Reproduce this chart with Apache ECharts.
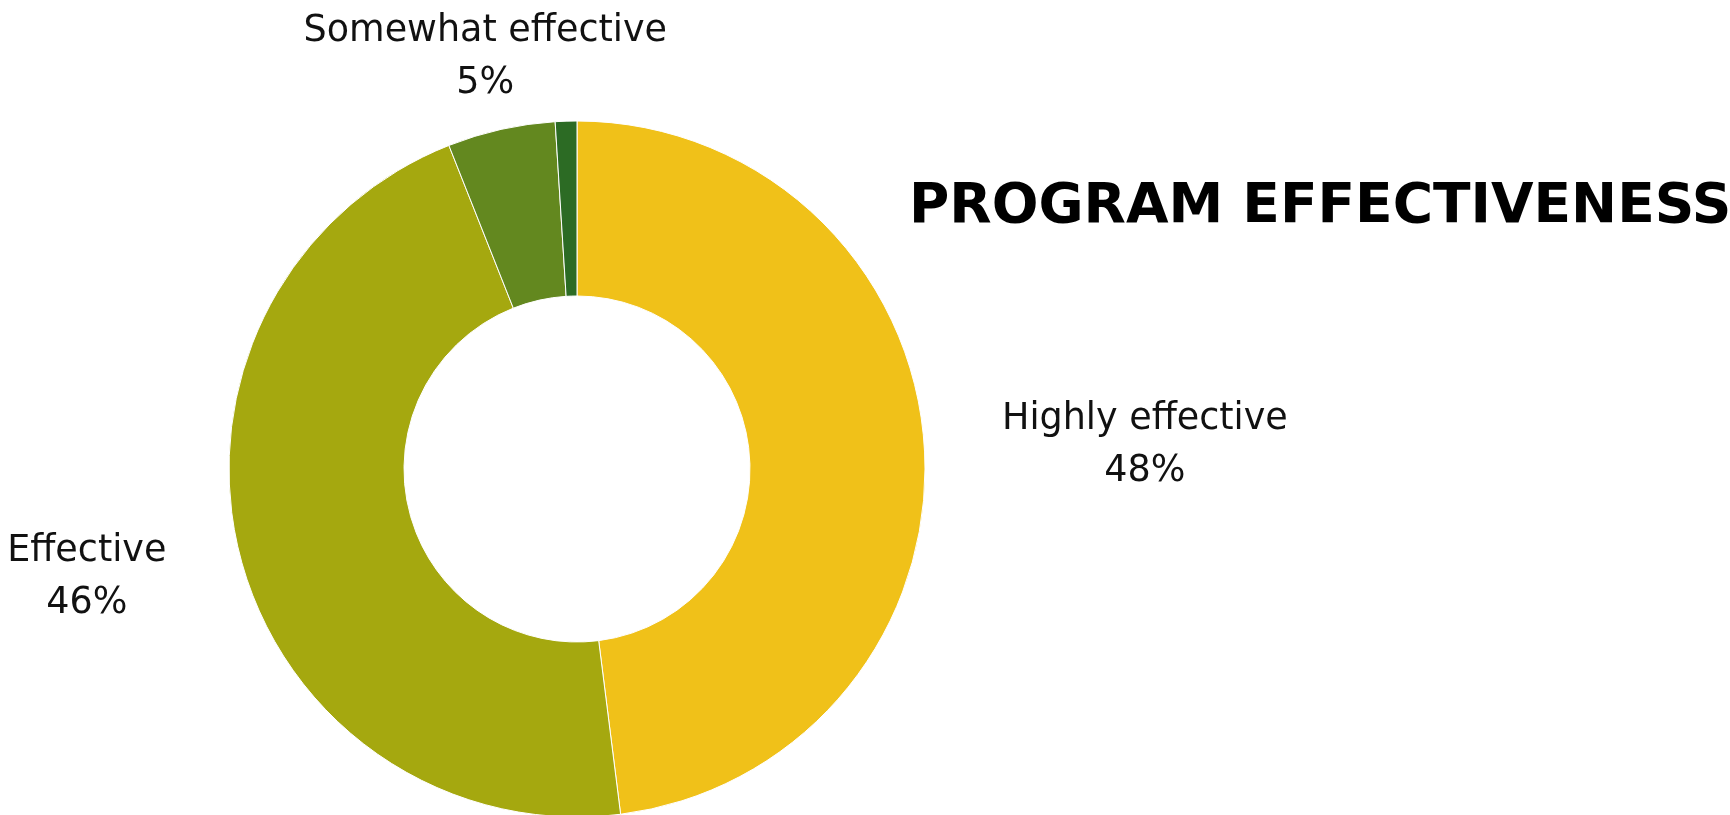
<!DOCTYPE html>
<html>
<head>
<meta charset="utf-8">
<script src="https://cdn.jsdelivr.net/npm/echarts@6/dist/echarts.min.js"></script>
<style>
html,body{margin:0;padding:0;background:#fff;}
#chart{width:1730px;height:815px;}
</style>
</head>
<body>
<div id="chart"></div>
<script>
const categories = ['Highly effective', 'Effective', 'Somewhat effective', 'Not effective'];
const values = [48, 46, 5, 1];
const colors = ['#F0C119', '#A5A80F', '#63881F', '#2C6B24'];
const showLabel = [true, true, true, false];

const CX = 577, CY = 469;
const labelDist = [567, 502, 425, 400];
const labelNudge = [[2, 12], [-4, -16], [1, 3], [0, 0]];

const total = values.reduce((a, b) => a + b, 0);

const chart = echarts.init(document.getElementById('chart'));
chart.setOption({
  backgroundColor: '#fff',
  animation: false,
  title: {
    text: 'PROGRAM EFFECTIVENESS',
    left: 904,
    top: 175,
    textStyle: { fontFamily: 'DejaVu Sans', fontWeight: 'bold', fontSize: 55, color: '#000' }
  },
  series: [{
    type: 'pie',
    center: [CX, CY],
    radius: [173, 348],
    startAngle: 90,
    clockwise: true,
    avoidLabelOverlap: false,
    itemStyle: { borderColor: '#fff', borderWidth: 1 },
    label: {
      show: true,
      position: 'outside',
      formatter: p => p.name + '\n' + Math.round(p.percent) + '%',
      fontFamily: 'DejaVu Sans',
      fontSize: 36.5,
      lineHeight: 52,
      color: '#111'
    },
    labelLine: { show: false },
    labelLayout: function (p) {
      const i = p.dataIndex;
      let before = 0;
      for (let k = 0; k < i; k++) before += values[k];
      const mid = (before + values[i] / 2) / total * Math.PI * 2;
      const r = labelDist[i];
      return {
        x: CX + r * Math.sin(mid) + labelNudge[i][0],
        y: CY - r * Math.cos(mid) + labelNudge[i][1],
        align: 'center',
        verticalAlign: 'middle'
      };
    },
    data: categories.map((c, i) => ({
      name: c,
      value: values[i],
      itemStyle: { color: colors[i] },
      label: { show: showLabel[i] }
    }))
  }]
});
</script>
</body>
</html>
